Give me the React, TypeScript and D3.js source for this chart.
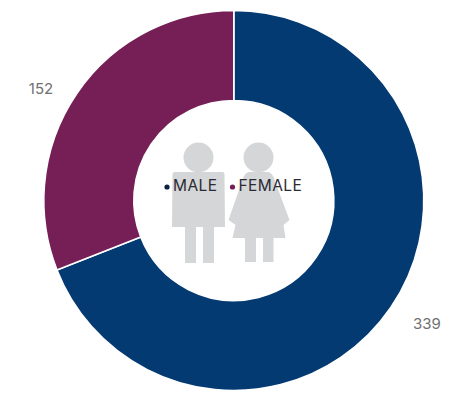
import React from "react";
import * as d3 from "d3";

const categories = ["MALE", "FEMALE"];
const values = [339, 152];
const colors = ["#043a72", "#751f56"];
const valueLabelAnchors: [number, number][] = [[427, 325], [41, 90]];

const W = 456;
const H = 399;
const CX = 233.8;
const CY = 200.5;
const OUTER = 190;
const INNER = 100;

const pie = d3.pie<number>().sort(null).value((d) => d);
const arc = d3.arc<d3.PieArcDatum<number>>().innerRadius(INNER).outerRadius(OUTER);

// Pictograms of a boy and a girl, each relative to its own centre line.
const boyPath =
  "M-24,-28 Q-26,-28 -26,-25 L-26.5,27 L-13.5,27 L-13.5,63 L-2.5,63 L-2.5,27 L4.5,27 L4.5,63 L15.5,63 L15.5,27 L26.5,27 L26,-25 Q26,-28 24,-28 Z";
const girlPath =
  "M-10,-28 L10,-28 Q14,-27 16,-20 L31,20 L25,25 L27,38 L15,38 L15,62 L4.5,62 L4.5,38 L-2.5,38 L-2.5,62 L-13.5,62 L-13.5,38 L-26,38 L-23,25 L-30,20 L-16,-20 Q-14,-27 -10,-28 Z";

export default function App() {
  const arcs = pie(values);
  return (
    <svg
      width={W}
      height={H}
      viewBox={`0 0 ${W} ${H}`}
      style={{ position: "absolute", left: 0, top: 0, background: "#fff" }}
      fontFamily="Inter, 'Open Sans', sans-serif"
    >
      <g transform={`translate(${CX},${CY})`}>
        {arcs.map((a, i) => (
          <path key={categories[i]} d={arc(a) ?? ""} fill={colors[i]} stroke="#fff" strokeWidth={1.6} />
        ))}
      </g>

      <g fill="#d5d6d8">
        <circle cx={198.5} cy={157.5} r={15} />
        <path transform="translate(198.5,200)" d={boyPath} />
        <circle cx={258.5} cy={157.5} r={15} />
        <path transform="translate(258.5,200)" d={girlPath} />
      </g>

      {categories.map((c, i) => {
        const dotX = i === 0 ? 167 : 232.5;
        return (
          <g key={c}>
            <circle cx={dotX} cy={187} r={2.6} fill={i === 0 ? "#0d2240" : colors[1]} />
            <text x={dotX + 6} y={190.5} fontSize={15.5} fill="#2b2b33" letterSpacing={0.4}>
              {c}
            </text>
          </g>
        );
      })}

      {values.map((v, i) => (
        <text
          key={v}
          x={valueLabelAnchors[i][0]}
          y={valueLabelAnchors[i][1]}
          textAnchor="middle"
          dominantBaseline="middle"
          fontSize={15}
          fill="#707070"
        >
          {v}
        </text>
      ))}
    </svg>
  );
}
